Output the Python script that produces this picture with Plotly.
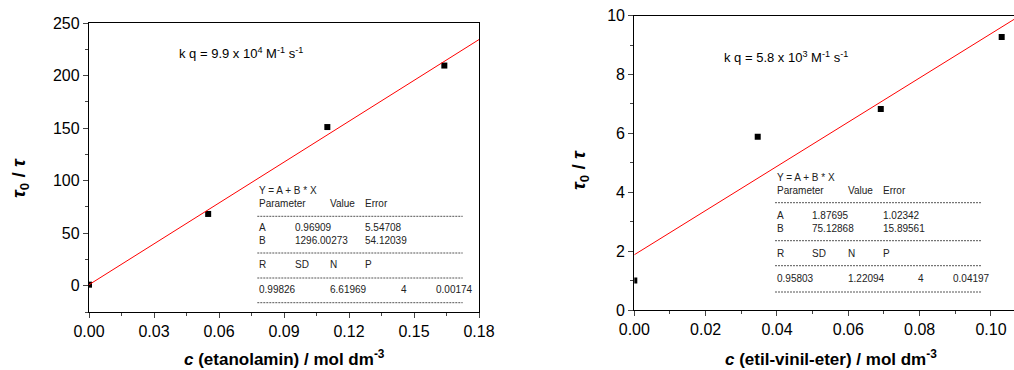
import plotly.graph_objects as go

# ---------------- data ----------------
conc_etanolamin = [0.0, 0.055, 0.110, 0.164]
ratio_etanolamin = [1.0, 68.3, 151.0, 209.5]
fit_A_etanolamin = 0.96909
fit_B_etanolamin = 1296.00273

conc_eter = [0.0, 0.0346, 0.0691, 0.1030]
ratio_eter = [1.0, 5.89, 6.83, 9.28]
fit_A_eter = 1.87695
fit_B_eter = 75.12868

kq_left = "k q = 9.9 x 10<sup>4</sup> M<sup>-1</sup> s<sup>-1</sup>"
kq_right = "k q = 5.8 x 10<sup>3</sup> M<sup>-1</sup> s<sup>-1</sup>"

xtitle_left = "<b><i>c</i> (etanolamin) / mol dm<sup>-3</sup></b>"
xtitle_right = "<b><i>c</i> (etil-vinil-eter) / mol dm<sup>-3</sup></b>"
ytitle = "<b><i>τ</i><sub>0</sub> / <i>τ</i></b>"

table_left = [
    ["Y = A + B * X"],
    ["Parameter", "", "Value", "Error"],
    None,
    ["A", "0.96909", "", "5.54708"],
    ["B", "1296.00273", "", "54.12039"],
    None,
    ["R", "SD", "N", "P"],
    None,
    ["0.99826", "", "6.61969", "", "4", "0.00174"],
    None,
]
table_right = [
    ["Y = A + B * X"],
    ["Parameter", "", "Value", "Error"],
    None,
    ["A", "1.87695", "", "1.02342"],
    ["B", "75.12868", "", "15.89561"],
    None,
    ["R", "SD", "N", "P"],
    None,
    ["0.95803", "", "1.22094", "", "4", "0.04197"],
    None,
]

xrange_left = [0, 0.18]
xrange_right = [0, 0.10645]

# ---------------- figure ----------------
W, H = 1014, 370
FONT = "Liberation Sans, Arial, sans-serif"

def px(x):
    return x / W

def py(y):
    return 1 - y / H

fig = go.Figure()

# left panel
fig.add_trace(go.Scatter(
    x=conc_etanolamin, y=ratio_etanolamin, mode="markers",
    marker=dict(symbol="square", size=6, color="black"),
    xaxis="x", yaxis="y", showlegend=False))
fig.add_trace(go.Scatter(
    x=xrange_left,
    y=[fit_A_etanolamin + fit_B_etanolamin * v for v in xrange_left],
    mode="lines", line=dict(color="red", width=1),
    xaxis="x", yaxis="y", showlegend=False))

# right panel
fig.add_trace(go.Scatter(
    x=conc_eter, y=ratio_eter, mode="markers",
    marker=dict(symbol="square", size=6, color="black"),
    xaxis="x2", yaxis="y2", showlegend=False))
fig.add_trace(go.Scatter(
    x=xrange_right,
    y=[fit_A_eter + fit_B_eter * v for v in xrange_right],
    mode="lines", line=dict(color="red", width=1),
    xaxis="x2", yaxis="y2", showlegend=False))

tickfont = dict(family=FONT, size=16, color="black")

def xax(domain, rng, dtick, minor, anchor, mirror=True):
    return dict(domain=domain, range=rng, anchor=anchor, dtick=dtick, tick0=0,
                tickformat=".2f", ticks="outside", ticklen=5, tickwidth=1,
                minor=dict(ticks="outside", ticklen=3, dtick=minor, tick0=0),
                showline=True, linecolor="black", linewidth=1, mirror=mirror,
                showgrid=False, zeroline=False, tickfont=tickfont,
                automargin=False)

def yax(domain, rng, dtick, minor, anchor, mirror=True):
    return dict(domain=domain, range=rng, anchor=anchor, dtick=dtick, tick0=0,
                ticks="outside", ticklen=5, tickwidth=1,
                minor=dict(ticks="outside", ticklen=3, dtick=minor, tick0=0),
                showline=True, linecolor="black", linewidth=1.3, mirror=mirror,
                showgrid=False, zeroline=False, tickfont=tickfont,
                automargin=False)

fig.update_layout(
    width=W, height=H,
    margin=dict(l=0, r=0, t=0, b=0),
    paper_bgcolor="white", plot_bgcolor="white",
    font=dict(family=FONT, color="black"),
    xaxis=xax([px(89), px(479)], xrange_left, 0.03, 0.015, "y"),
    yaxis=yax([py(312), py(23)], [-25, 250], 50, 25, "x"),
    xaxis2=xax([px(634.3), 1.0], xrange_right, 0.02, 0.01, "y2"),
    yaxis2=yax([py(310), py(15.7)], [0, 10], 2, 1, "x2", mirror=False),
)

annotations = []
shapes = []

def label(text, x, y, size, angle=0, anchor="center"):
    annotations.append(dict(text=text, xref="paper", yref="paper",
                            x=px(x), y=py(y), xanchor=anchor, yanchor="middle",
                            textangle=angle, showarrow=False,
                            font=dict(family=FONT, size=size, color="black")))

# axis titles
label(xtitle_left, 284, 358, 17)
label(xtitle_right, 831, 358, 17)
label(ytitle, 20, 178, 19, angle=-90)
label(ytitle, 580, 170, 19, angle=-90)

# k q labels
label(kq_left, 176.7, 53, 13, anchor="left")
label(kq_right, 722.3, 57.3, 13, anchor="left")

col_off = [0, 35.2, 70.8, 106, 141.3, 176.3]
row_off_left = [0, 13, 25.6, 36.8, 49.8, 62.3, 74, 87.3, 99, 112]
row_off_right = [0, 13, 25.4, 38, 51.4, 63.4, 76, 88.4, 101, 114.7]

def add_table(rows, x0, y0, row_off, width):
    for r, row in enumerate(rows):
        yy = y0 + row_off[r]
        if row is None:
            shapes.append(dict(type="line", xref="paper", yref="paper",
                               x0=px(x0), x1=px(x0 + width), y0=py(yy), y1=py(yy),
                               line=dict(color="#555555", width=1, dash="2px,1px")))
            continue
        for c, txt in enumerate(row):
            if not txt:
                continue
            annotations.append(dict(text=txt, xref="paper", yref="paper",
                                    x=px(x0 + col_off[c]), y=py(yy),
                                    xanchor="left", yanchor="middle", showarrow=False,
                                    font=dict(family=FONT, size=10, color="#222222")))

add_table(table_left, 257.3, 190.7, row_off_left, 205.4)
add_table(table_right, 775.0, 177.3, row_off_right, 206.0)

fig.update_layout(annotations=annotations, shapes=shapes)

fig.write_html("out.html",
               config={"displayModeBar": False},
               post_script="document.body.style.margin='0';document.body.style.overflow='hidden';")
